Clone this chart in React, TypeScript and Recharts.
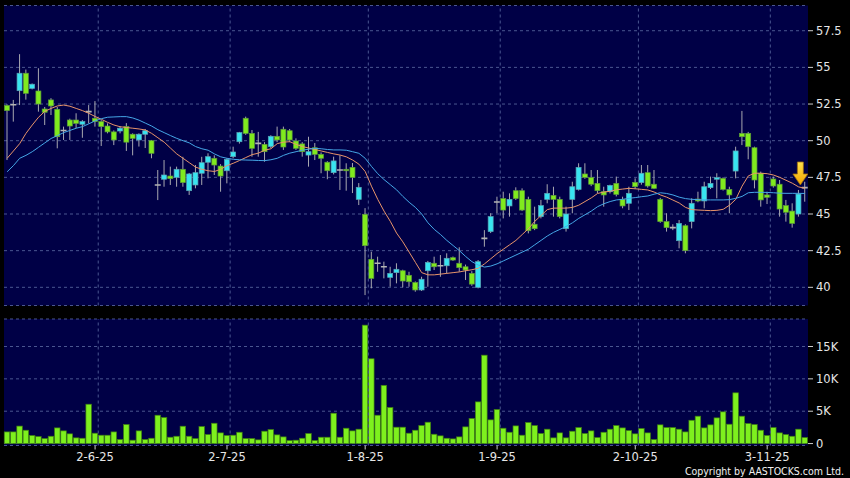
import {
  Bar,
  CartesianGrid,
  ComposedChart,
  Line,
  ReferenceDot,
  ReferenceLine,
  XAxis,
  YAxis,
} from "recharts";

// trading days per month (2025)
const mayDays = [13, 14, 15, 16, 19, 20, 21, 22, 23, 26, 27, 28, 29, 30];
const junDays = [2, 3, 4, 5, 6, 9, 10, 11, 12, 13, 16, 17, 18, 19, 20, 23, 24, 25, 26, 27, 30];
const julDays = [2, 3, 4, 7, 8, 9, 10, 11, 14, 15, 16, 17, 18, 21, 22, 23, 24, 25, 28, 29, 30, 31];
const augDays = [1, 4, 5, 6, 7, 8, 11, 12, 13, 14, 15, 18, 19, 20, 21, 22, 25, 26, 27, 28, 29];
const sepDays = [1, 2, 3, 4, 5, 8, 9, 10, 11, 12, 15, 16, 17, 18, 19, 22, 23, 24, 25, 26, 29, 30];
const octDays = [2, 3, 6, 7, 8, 9, 10, 13, 14, 15, 16, 17, 20, 21, 22, 23, 24, 27, 28, 30, 31];
const novDays = [3, 4, 5, 6, 7, 10, 11];

const tickDates = ["2025-06-02", "2025-07-02", "2025-08-01", "2025-09-01", "2025-10-02", "2025-11-03"];
const tickLabels = ["2-6-25", "2-7-25", "1-8-25", "1-9-25", "2-10-25", "3-11-25"];

const priceTicks = [40, 42.5, 45, 47.5, 50, 52.5, 55, 57.5];
const volumeTicks = [0, 5000, 10000, 15000];

const opens = [
  52.4, 52.45, 53.41, 54.6, 53.57, 53.39, 52.16, 52.78, 52.14, 50.7, 51.41, 51.41, 51.12, 51.98, 51.53, 51.3,
  51.0, 50.6, 50.66, 50.96, 50.44, 50.05, 50.44, 50.0, 46.98, 47.37, 47.59, 47.5, 48.05, 46.59, 46.98, 47.78,
  48.53, 48.8, 48.27, 47.95, 48.91, 49.93, 51.53, 50.5, 49.82, 49.75, 49.6, 50.3, 50.78, 50.68, 49.98, 49.78,
  49.02, 49.52, 49.07, 48.53, 47.82, 48.0, 48.05, 48.18, 46.0, 44.98, 41.91, 41.64, 41.4, 40.68, 41.0, 41.13,
  40.82, 40.32, 39.82, 41.13, 41.64, 41.47, 41.47, 42.02, 41.64, 41.4, 40.95, 40.0, 43.34, 43.8, 45.82, 46.05,
  45.55, 46.59, 46.59, 46.0, 44.3, 44.82, 46.0, 46.27, 46.0, 44.0, 46.0, 46.68, 47.73, 47.48, 47.09, 46.52,
  46.52, 47.09, 46.0, 45.73, 47.16, 47.14, 47.82, 47.03, 46.0, 44.48, 44.07, 43.18, 44.2, 44.48, 46.02, 45.89,
  46.8, 47.37, 47.43, 46.68, 47.93, 50.5, 50.5, 49.52, 47.78, 46.3, 47.39, 47.03, 45.57, 45.2, 45.0, 46.8,
];
const highs = [
  52.48, 52.78, 55.9, 54.85, 53.9, 54.94, 52.3, 52.9, 52.3, 50.96, 51.5, 51.87, 51.4, 52.43, 52.7, 51.4,
  51.18, 50.7, 51.0, 51.2, 50.5, 50.5, 50.8, 50.05, 48.0, 48.68, 48.23, 48.23, 48.9, 47.8, 48.34, 48.9,
  49.14, 49.0, 48.4, 48.8, 49.59, 50.6, 51.64, 50.73, 50.6, 49.9, 50.37, 50.96, 50.96, 50.8, 50.16, 49.9,
  50.27, 49.84, 49.2, 48.6, 48.91, 49.0, 48.46, 48.48, 47.11, 45.4, 42.43, 42.09, 41.75, 41.4, 41.64, 41.2,
  41.06, 40.4, 40.72, 41.8, 42.09, 42.2, 42.32, 42.1, 42.73, 41.55, 41.1, 41.86, 43.9, 45.05, 46.18, 46.52,
  46.41, 46.82, 46.75, 46.18, 45.5, 45.96, 47.03, 46.86, 46.18, 45.5, 47.2, 48.46, 48.46, 48.0, 48.0, 46.86,
  47.0, 47.55, 46.18, 46.86, 47.43, 48.34, 48.34, 48.0, 46.1, 45.05, 44.3, 44.59, 44.3, 46.07, 46.52, 47.2,
  47.55, 47.78, 47.5, 46.86, 49.59, 52.03, 50.6, 49.59, 47.89, 46.52, 47.55, 47.32, 45.96, 45.73, 46.64, 47.2,
];
const lows = [
  48.68, 51.3, 52.43, 52.8, 53.5, 51.98, 51.07, 51.75, 49.48, 50.05, 50.05, 50.85, 50.2, 51.18, 50.96, 49.64,
  50.5, 49.7, 50.5, 49.3, 49.0, 49.6, 49.5, 48.8, 45.95, 46.86, 46.98, 46.86, 46.86, 46.3, 46.75, 46.98,
  47.43, 47.66, 46.52, 47.09, 48.8, 49.8, 50.4, 48.91, 48.91, 48.57, 49.5, 49.9, 49.37, 49.9, 49.37, 48.91,
  48.23, 48.68, 47.78, 47.37, 47.7, 46.64, 46.59, 46.43, 45.61, 39.47, 39.93, 41.06, 40.61, 40.04, 40.27, 40.0,
  40.04, 39.7, 39.75, 40.04, 41.18, 40.72, 40.95, 41.8, 41.06, 40.5, 40.1, 39.93, 42.77, 43.7, 45.05, 44.7,
  44.82, 45.96, 45.2, 43.68, 43.9, 44.7, 45.73, 44.82, 44.7, 43.8, 45.05, 46.6, 47.4, 46.9, 46.43, 45.5,
  46.4, 46.2, 45.39, 45.27, 46.7, 47.0, 46.8, 46.7, 44.4, 43.8, 43.9, 42.66, 42.32, 44.02, 45.8, 45.39,
  46.7, 46.07, 46.6, 45.05, 47.43, 49.7, 48.73, 46.75, 45.5, 45.68, 46.8, 44.82, 44.48, 44.07, 44.82, 45.84,
];
const closes = [
  52.05, 52.45, 54.6, 53.23, 53.85, 52.5, 51.94, 52.37, 50.27, 50.7, 51.0, 51.18, 51.3, 51.98, 51.3, 50.96,
  50.6, 50.05, 50.85, 49.9, 50.16, 50.44, 50.68, 49.14, 46.98, 47.66, 47.41, 48.05, 47.14, 47.73, 47.82, 48.5,
  48.91, 48.34, 47.59, 48.73, 49.23, 50.55, 50.5, 49.48, 49.82, 49.25, 50.3, 50.05, 49.57, 50.05, 49.48, 49.25,
  49.25, 49.07, 48.8, 47.95, 48.62, 48.0, 47.95, 47.5, 46.82, 42.84, 40.61, 41.64, 41.4, 40.95, 41.23, 40.43,
  40.38, 39.82, 40.55, 41.7, 41.4, 41.47, 41.98, 41.86, 41.34, 41.18, 40.22, 41.75, 43.34, 44.82, 45.82, 45.27,
  46.0, 46.05, 45.27, 43.86, 44.0, 45.57, 46.41, 46.0, 44.82, 45.0, 46.86, 48.18, 47.5, 47.03, 46.59, 46.3,
  46.95, 46.34, 45.55, 46.41, 46.86, 47.78, 46.91, 46.75, 44.48, 44.07, 44.07, 44.36, 42.5, 45.73, 45.89, 46.86,
  47.09, 47.48, 46.68, 46.3, 49.3, 50.27, 49.59, 47.32, 45.96, 46.14, 46.91, 45.34, 45.12, 44.36, 46.36, 46.8,
];
const volumes = [
  1800, 1800, 2700, 2060, 1240, 1080, 770, 1130, 2420, 1960, 1500, 880, 820, 6080, 1600, 1290,
  1290, 1800, 620, 2940, 520, 1960, 620, 820, 4380, 4020, 980, 1130, 2680, 1130, 770, 2630,
  1390, 3140, 1650, 1240, 1290, 1750, 770, 770, 570, 1910, 2160, 1340, 1030, 460, 520, 820,
  1550, 460, 980, 980, 4690, 980, 2370, 1960, 2220, 18300, 13100, 4380, 9000, 5570, 2530, 2530,
  1600, 2060, 2780, 3300, 1440, 1190, 820, 720, 1030, 2580, 3870, 6440, 13660, 3660, 5260, 2370,
  1750, 2730, 1290, 3250, 2780, 1550, 2220, 880, 1650, 880, 1910, 2470, 1550, 1960, 930, 1750,
  2220, 2780, 2420, 2000, 1500, 2320, 1650, 620, 2890, 2470, 2470, 2220, 1800, 3600, 4230, 2420,
  2890, 3970, 4900, 2990, 7840, 4230, 3090, 2940, 2060, 1240, 2470, 1650, 1390, 1130, 2220, 930,
];
const maShort = [
  48.8, 49.3, 49.8, 50.5, 51.07, 51.6, 52.0, 52.2, 52.37, 52.43, 52.35, 52.2, 52.05, 51.87, 51.65, 51.46,
  51.25, 51.07, 50.95, 50.9, 50.85, 50.8, 50.73, 50.5, 50.2, 49.9, 49.5, 49.1, 48.8, 48.5, 48.2, 48.05,
  47.95, 47.9, 48.05, 48.3, 48.46, 48.65, 48.85, 49.05, 49.15, 49.35, 49.45, 49.8, 49.9, 49.93, 49.75, 49.6,
  49.5, 49.4, 49.3, 49.2, 49.1, 49.02, 48.9, 48.68, 48.4, 47.9, 46.9, 46.0, 45.2, 44.5, 43.7, 43.1,
  42.4, 41.7, 41.0, 40.85, 40.85, 40.9, 40.95, 41.0, 41.05, 41.13, 41.2, 41.3, 41.6, 41.95, 42.3, 42.6,
  42.9, 43.2, 43.6, 44.0, 44.5, 44.9, 45.3, 45.4, 45.4, 45.4, 45.45, 45.6, 45.85, 46.1, 46.4, 46.5,
  46.55, 46.65, 46.7, 46.75, 46.72, 46.68, 46.64, 46.5, 46.3, 46.15, 45.95, 45.75, 45.45, 45.3, 45.27, 45.25,
  45.23, 45.25, 45.32, 45.6, 46.0, 46.9, 47.6, 47.78, 47.78, 47.75, 47.66, 47.5, 47.3, 47.1, 46.85, 46.75,
];
const maLong = [
  47.88, 48.3, 48.8, 49.0, 49.25, 49.55, 49.85, 50.15, 50.35, 50.55, 50.7, 50.85, 50.96, 51.15, 51.35, 51.5,
  51.6, 51.62, 51.64, 51.64, 51.55, 51.4, 51.2, 51.0, 50.75, 50.55, 50.35, 50.16, 50.0, 49.85, 49.6, 49.45,
  49.35, 49.1, 48.9, 48.8, 48.73, 48.7, 48.68, 48.67, 48.65, 48.64, 48.7, 48.8, 49.0, 49.15, 49.25, 49.35,
  49.42, 49.48, 49.45, 49.4, 49.37, 49.37, 49.35, 49.25, 49.14, 48.8, 48.25, 47.75, 47.35, 47.0, 46.65, 46.2,
  45.8, 45.45, 45.0, 44.4, 43.95, 43.6, 43.2, 42.85, 42.5, 42.1, 41.75, 41.52, 41.38, 41.45, 41.6, 41.8,
  42.0, 42.2, 42.4, 42.6, 42.9, 43.2, 43.5, 43.75, 43.95, 44.15, 44.4, 44.7, 44.95, 45.2, 45.5, 45.7,
  45.85, 45.96, 46.0, 46.07, 46.12, 46.18, 46.23, 46.35, 46.45, 46.4, 46.3, 46.15, 46.05, 46.0, 45.98, 45.96,
  45.96, 45.96, 45.96, 45.98, 46.07, 46.2, 46.45, 46.48, 46.48, 46.47, 46.45, 46.42, 46.41, 46.41, 46.41, 46.4,
];

const pad = (n: number) => String(n).padStart(2, "0");
const months: [number, number[]][] = [
  [5, mayDays],
  [6, junDays],
  [7, julDays],
  [8, augDays],
  [9, sepDays],
  [10, octDays],
  [11, novDays],
];
const dates = months.flatMap(([m, days]) => days.map((d) => `2025-${pad(m)}-${pad(d)}`));

const rows = dates.map((date, i) => ({
  date,
  open: opens[i],
  high: highs[i],
  low: lows[i],
  close: closes[i],
  volume: volumes[i],
  maShort: maShort[i],
  maLong: maLong[i],
}));

const NAVY = "#000046";
const GRID = "#4a5690";
const UP = "#38e4f0";
const DOWN = "#80ea1e";
const WICK = "#a8a8b0";
const AXIS_TEXT = { fill: "#e6e6e6", fontSize: 11.5, fontFamily: "DejaVu Sans" };

const Candle = (props: any) => {
  const { x, y, width, height, payload } = props;
  if (!payload) return <g />;
  const { open, high, low, close } = payload;
  const top = Math.min(y, y + height);
  const span = Math.abs(height);
  const k = high > low ? span / (high - low) : 0;
  const py = (v: number) => top + (high - v) * k;
  const cx = x + width / 2;
  const bw = 5;
  if (open === close) {
    return (
      <g>
        <line x1={cx} x2={cx} y1={py(high)} y2={py(low)} stroke={WICK} strokeWidth={1} />
        <line x1={cx - 3} x2={cx + 3} y1={py(open)} y2={py(open)} stroke="#b4b4b4" strokeWidth={1.6} />
      </g>
    );
  }
  const up = close > open;
  const bTop = py(Math.max(open, close));
  const bH = Math.max(1.5, py(Math.min(open, close)) - bTop);
  return (
    <g>
      <line x1={cx} x2={cx} y1={py(high)} y2={py(low)} stroke={WICK} strokeWidth={1} />
      <rect
        x={cx - bw / 2}
        y={bTop}
        width={bw}
        height={bH}
        fill={up ? UP : DOWN}
        stroke={up ? "#5aa4b4" : "#5c9a3a"}
        strokeWidth={0.7}
      />
    </g>
  );
};

const VolumeBar = (props: any) => {
  const { x, y, width, height } = props;
  const cx = x + width / 2;
  const h = Math.abs(height);
  const top = Math.min(y, y + height);
  return (
    <rect x={cx - 2.75} y={top} width={5.5} height={h} fill="#7ef01e" stroke="#3f8010" strokeWidth={0.7} />
  );
};

const DateTick = (props: any) => {
  const { x, y, payload } = props;
  const i = tickDates.indexOf(payload?.value);
  if (i < 0) return <g />;
  return (
    <g>
      <line x1={x} x2={x} y1={y} y2={y + 4} stroke="#cccccc" strokeWidth={1} />
      <text x={x} y={y + 15} textAnchor="middle" {...AXIS_TEXT}>
        {tickLabels[i]}
      </text>
    </g>
  );
};

const Arrow = (props: any) => {
  const { cx, cy } = props;
  if (cx == null || cy == null) return <g />;
  const ax = cx - 4.5;
  const d = `M ${ax - 3} ${cy - 23} L ${ax + 3} ${cy - 23} L ${ax + 3} ${cy - 11} L ${ax + 7.5} ${cy - 11} L ${ax} ${cy} L ${ax - 7.5} ${cy - 11} L ${ax - 3} ${cy - 11} Z`;
  return (
    <g>
      <defs>
        <linearGradient id="arrowFill" x1="0" y1="0" x2="0" y2="1">
          <stop offset="0%" stopColor="#ffe24a" />
          <stop offset="100%" stopColor="#f2a400" />
        </linearGradient>
      </defs>
      <path d={d} fill="url(#arrowFill)" stroke="#9a6a10" strokeWidth={0.8} />
    </g>
  );
};

export default function App() {
  const lastDate = dates[dates.length - 1];
  return (
    <div style={{ position: "absolute", left: 0, top: 0, width: 850, height: 478, background: "#000" }}>
      <div style={{ position: "absolute", left: 0, top: 0 }}>
        <ComposedChart
          width={850}
          height={312}
          data={rows}
          margin={{ top: 5.5, right: 0, bottom: 6.5, left: 4 }}
          barCategoryGap={0}
        >
          <CartesianGrid vertical={false} fill={NAVY} stroke={GRID} strokeDasharray="3 3" />
          <XAxis dataKey="date" hide />
          <YAxis
            orientation="right"
            width={42}
            domain={[38.76, 59.22]}
            ticks={priceTicks}
            allowDataOverflow
            axisLine={false}
            tickSize={5}
            tickMargin={3}
            tickLine={{ stroke: "#cccccc" }}
            tick={{ ...AXIS_TEXT, textAnchor: "start" }}
            tickFormatter={(v: number) => String(v)}
          />
          {tickDates.map((d) => (
            <ReferenceLine key={d} x={d} position="end" stroke={GRID} strokeDasharray="3 3" />
          ))}
          <Bar dataKey={(r: any) => [r.low, r.high]} shape={Candle} isAnimationActive={false} />
          <Line dataKey="maShort" stroke="#e8946a" strokeWidth={1} dot={false} isAnimationActive={false} />
          <Line dataKey="maLong" stroke="#45a6e6" strokeWidth={1} dot={false} isAnimationActive={false} />
          <ReferenceDot x={lastDate} y={46.98} r={0} shape={Arrow} ifOverflow="visible" />
        </ComposedChart>
      </div>
      <div style={{ position: "absolute", left: 0, top: 312 }}>
        <ComposedChart
          width={850}
          height={166}
          data={rows}
          margin={{ top: 7, right: 0, bottom: 0, left: 4 }}
          barCategoryGap={0}
        >
          <CartesianGrid vertical={false} fill={NAVY} stroke={GRID} strokeDasharray="3 3" />
          <XAxis
            dataKey="date"
            height={32.5}
            interval={0}
            axisLine={false}
            tickLine={false}
            tickSize={0}
            tickMargin={0}
            tick={DateTick}
          />
          <YAxis
            orientation="right"
            width={42}
            domain={[-300, 19250]}
            ticks={volumeTicks}
            allowDataOverflow
            axisLine={false}
            tickSize={5}
            tickMargin={3}
            tickLine={{ stroke: "#cccccc" }}
            tick={{ ...AXIS_TEXT, textAnchor: "start" }}
            tickFormatter={(v: number) => (v === 0 ? "0" : `${v / 1000}K`)}
          />
          {tickDates.map((d) => (
            <ReferenceLine key={d} x={d} position="end" stroke={GRID} strokeDasharray="3 3" />
          ))}
          <Bar dataKey="volume" shape={VolumeBar} isAnimationActive={false} />
        </ComposedChart>
      </div>
      <svg width={850} height={478} style={{ position: "absolute", left: 0, top: 0, pointerEvents: "none" }}>
        <text x={844} y={474.5} textAnchor="end" fill="#f0f0f0" fontSize={10.5} fontFamily="DejaVu Sans Condensed">
          Copyright by AASTOCKS.com Ltd.
        </text>
      </svg>
    </div>
  );
}
